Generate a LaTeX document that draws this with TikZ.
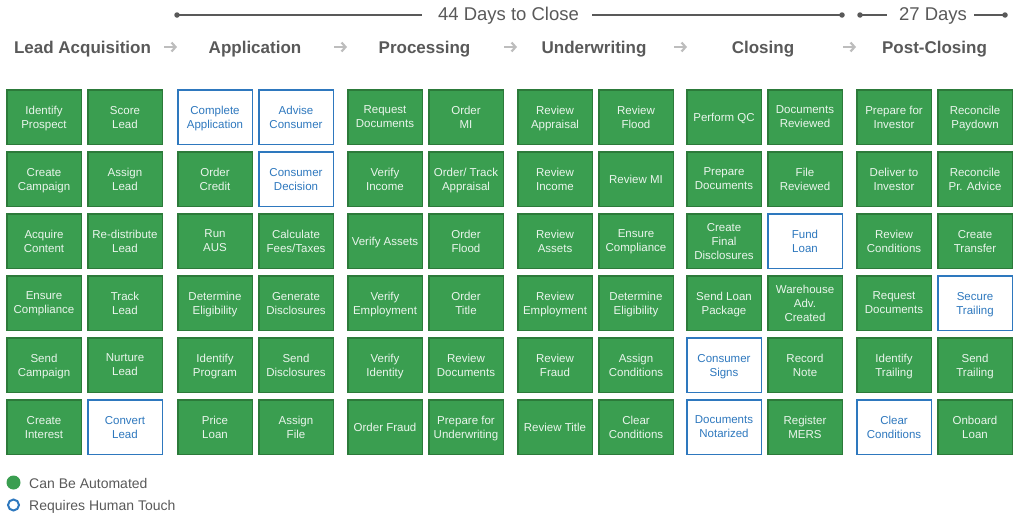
\documentclass[tikz,border=0pt]{standalone}
\usepackage{fontspec}
\setmainfont{Liberation Sans}
\usetikzlibrary{arrows.meta}
\definecolor{ggreen}{HTML}{3A9E50}
\definecolor{gborder}{HTML}{2C7A3A}
\definecolor{gtext}{HTML}{EAF5EC}
\definecolor{hblue}{HTML}{2E78BE}
\definecolor{dgray}{HTML}{595959}
\definecolor{lgray}{HTML}{BDBDBD}
\begin{document}
\begin{tikzpicture}[x=1pt,y=-1pt,
  box/.style={minimum width=74.5pt, minimum height=54.5pt, inner sep=0pt, align=center,
    font=\fontsize{11.5}{14}\selectfont, line width=1.5pt, text depth=0pt},
  autobox/.style={box, fill=ggreen, draw=gborder, text=gtext},
  humanbox/.style={box, fill=white, draw=hblue, text=hblue},
  phase/.style={anchor=base, font=\fontsize{17}{20}\selectfont\bfseries, text=dgray, inner sep=0pt},
  phasearrow/.style={draw=lgray, line width=2.2pt, -{Straight Barb[length=4pt,width=9pt]}},
  tline/.style={draw=dgray, line width=1.5pt},
  tdot/.style={circle, fill=dgray, inner sep=0pt, minimum size=5.5pt},
  ttext/.style={anchor=base, font=\fontsize{18.5}{22}\selectfont, text=dgray, inner sep=0pt},
  legtext/.style={anchor=base west, font=\fontsize{14}{16}\selectfont, text=dgray, inner sep=0pt}
]
\useasboundingbox (0,0) rectangle (1024,515);

% ---------- timeline ----------
\node[tdot] (d1) at (177,15) {};
\node[ttext] (t44) at (508.5,20.7) {44 Days to Close};
\coordinate (t44l) at (422,15);
\coordinate (t44r) at (592,15);
\node[tdot] (d2) at (842,15) {};
\node[tdot] (d3) at (860,15) {};
\coordinate (t27l) at (887,15);
\node[ttext] (t27) at (933,20.7) {27 Days};
\coordinate (t27r) at (974,15);
\node[tdot] (d4) at (1005,15) {};
\draw[tline] (d1.center) -- (t44l);
\draw[tline] (t44r) -- (d2.center);
\draw[tline] (d3.center) -- (t27l);
\draw[tline] (t27r) -- (d4.center);

% ---------- phases ----------
\node[phase] (p1) at (82.5,53) {Lead Acquisition};
\node[phase] (p2) at (255,53) {Application};
\node[phase] (p3) at (424.5,53) {Processing};
\node[phase] (p4) at (594,53) {Underwriting};
\node[phase] (p5) at (763,53) {Closing};
\node[phase] (p6) at (934.5,53) {Post-Closing};
\coordinate (a1l) at (164,47); \coordinate (a1r) at (177,47);
\coordinate (a2l) at (334,47); \coordinate (a2r) at (347,47);
\coordinate (a3l) at (504,47); \coordinate (a3r) at (517,47);
\coordinate (a4l) at (674,47); \coordinate (a4r) at (687,47);
\coordinate (a5l) at (843,47); \coordinate (a5r) at (856,47);
\draw[phasearrow] (a1l) -- (a1r);
\draw[phasearrow] (a2l) -- (a2r);
\draw[phasearrow] (a3l) -- (a3r);
\draw[phasearrow] (a4l) -- (a4r);
\draw[phasearrow] (a5l) -- (a5r);

% ---------- Lead Acquisition ----------
\node[autobox] (c1r1) at (44,117) {Identify\\Prospect};
\node[autobox] (c1r2) at (44,179) {Create\\Campaign};
\node[autobox] (c1r3) at (44,241) {Acquire\\Content};
\node[autobox] (c1r4) at (44,303) {Ensure\\Compliance};
\node[autobox] (c1r5) at (44,365) {Send\\Campaign};
\node[autobox] (c1r6) at (44,427) {Create\\Interest};
\node[autobox] (c2r1) at (125,117) {Score\\Lead};
\node[autobox] (c2r2) at (125,179) {Assign\\Lead};
\node[autobox] (c2r3) at (125,241) {Re-distribute\\Lead};
\node[autobox] (c2r4) at (125,303) {Track\\Lead};
\node[autobox] (c2r5) at (125,365) {Nurture\\Lead};
\node[humanbox] (c2r6) at (125,427) {Convert\\Lead};

% ---------- Application ----------
\node[humanbox] (c3r1) at (215,117) {Complete\\Application};
\node[autobox] (c3r2) at (215,179) {Order\\Credit};
\node[autobox] (c3r3) at (215,241) {Run\\AUS};
\node[autobox] (c3r4) at (215,303) {Determine\\Eligibility};
\node[autobox] (c3r5) at (215,365) {Identify\\Program};
\node[autobox] (c3r6) at (215,427) {Price\\Loan};
\node[humanbox] (c4r1) at (296,117) {Advise\\Consumer};
\node[humanbox] (c4r2) at (296,179) {Consumer\\Decision};
\node[autobox] (c4r3) at (296,241) {Calculate\\Fees/Taxes};
\node[autobox] (c4r4) at (296,303) {Generate\\Disclosures};
\node[autobox] (c4r5) at (296,365) {Send\\Disclosures};
\node[autobox] (c4r6) at (296,427) {Assign\\File};

% ---------- Processing ----------
\node[autobox] (c5r1) at (385,117) {Request\\Documents};
\node[autobox] (c5r2) at (385,179) {Verify\\Income};
\node[autobox] (c5r3) at (385,241) {Verify Assets};
\node[autobox] (c5r4) at (385,303) {Verify\\Employment};
\node[autobox] (c5r5) at (385,365) {Verify\\Identity};
\node[autobox] (c5r6) at (385,427) {Order Fraud};
\node[autobox] (c6r1) at (466,117) {Order\\MI};
\node[autobox] (c6r2) at (466,179) {Order/ Track\\Appraisal};
\node[autobox] (c6r3) at (466,241) {Order\\Flood};
\node[autobox] (c6r4) at (466,303) {Order\\Title};
\node[autobox] (c6r5) at (466,365) {Review\\Documents};
\node[autobox] (c6r6) at (466,427) {Prepare for\\Underwriting};

% ---------- Underwriting ----------
\node[autobox] (c7r1) at (555,117) {Review\\Appraisal};
\node[autobox] (c7r2) at (555,179) {Review\\Income};
\node[autobox] (c7r3) at (555,241) {Review\\Assets};
\node[autobox] (c7r4) at (555,303) {Review\\Employment};
\node[autobox] (c7r5) at (555,365) {Review\\Fraud};
\node[autobox] (c7r6) at (555,427) {Review Title};
\node[autobox] (c8r1) at (636,117) {Review\\Flood};
\node[autobox] (c8r2) at (636,179) {Review MI};
\node[autobox] (c8r3) at (636,241) {Ensure\\Compliance};
\node[autobox] (c8r4) at (636,303) {Determine\\Eligibility};
\node[autobox] (c8r5) at (636,365) {Assign\\Conditions};
\node[autobox] (c8r6) at (636,427) {Clear\\Conditions};

% ---------- Closing ----------
\node[autobox] (c9r1) at (724,117) {Perform QC};
\node[autobox] (c9r2) at (724,179) {Prepare\\Documents};
\node[autobox] (c9r3) at (724,241) {Create\\Final\\Disclosures};
\node[autobox] (c9r4) at (724,303) {Send Loan\\Package};
\node[humanbox] (c9r5) at (724,365) {Consumer\\Signs};
\node[humanbox] (c9r6) at (724,427) {Documents\\Notarized};
\node[autobox] (c10r1) at (805,117) {Documents\\Reviewed};
\node[autobox] (c10r2) at (805,179) {File\\Reviewed};
\node[humanbox] (c10r3) at (805,241) {Fund\\Loan};
\node[autobox] (c10r4) at (805,303) {Warehouse\\Adv.\\Created};
\node[autobox] (c10r5) at (805,365) {Record\\Note};
\node[autobox] (c10r6) at (805,427) {Register\\MERS};

% ---------- Post-Closing ----------
\node[autobox] (c11r1) at (894,117) {Prepare for\\Investor};
\node[autobox] (c11r2) at (894,179) {Deliver to\\Investor};
\node[autobox] (c11r3) at (894,241) {Review\\Conditions};
\node[autobox] (c11r4) at (894,303) {Request\\Documents};
\node[autobox] (c11r5) at (894,365) {Identify\\Trailing};
\node[humanbox] (c11r6) at (894,427) {Clear\\Conditions};
\node[autobox] (c12r1) at (975,117) {Reconcile\\Paydown};
\node[autobox] (c12r2) at (975,179) {Reconcile\\Pr. Advice};
\node[autobox] (c12r3) at (975,241) {Create\\Transfer};
\node[humanbox] (c12r4) at (975,303) {Secure\\Trailing};
\node[autobox] (c12r5) at (975,365) {Send\\Trailing};
\node[autobox] (c12r6) at (975,427) {Onboard\\Loan};

% ---------- legend ----------
\node[circle, fill=ggreen, inner sep=0pt, minimum size=14pt] (lg1) at (13.5,482.5) {};
\node[legtext] (lt1) at (29,488.2) {Can Be Automated};
\node[circle, draw=hblue, line width=2pt, fill=white, inner sep=0pt, minimum size=11pt] (lg2) at (13.5,505) {};
\node[legtext] (lt2) at (29,510.6) {Requires Human Touch};
\end{tikzpicture}
\end{document}
